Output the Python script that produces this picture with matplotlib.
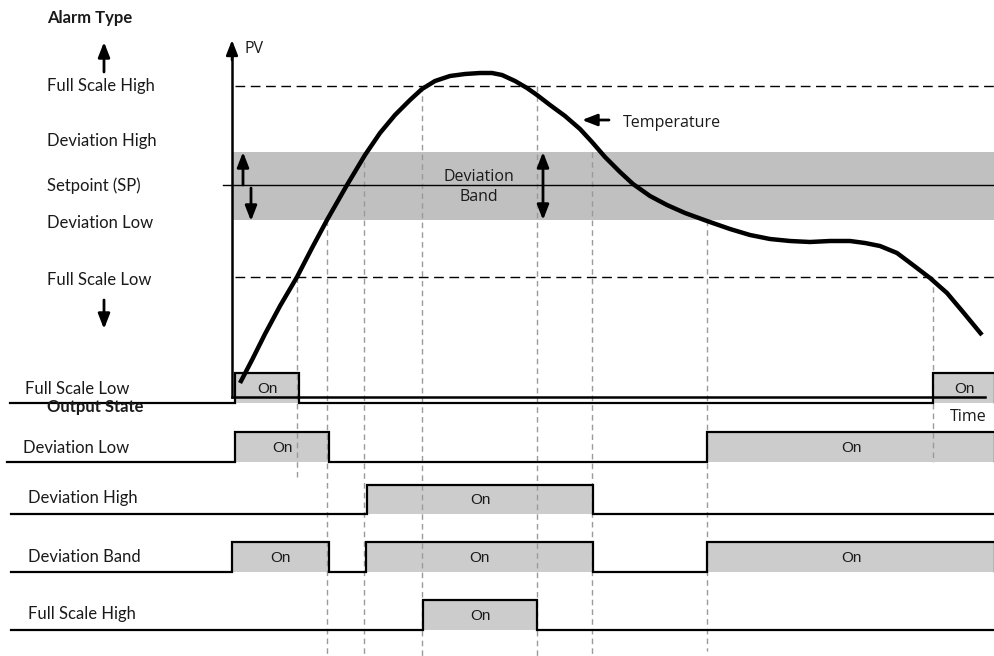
import matplotlib
matplotlib.use("Agg")
import matplotlib.pyplot as plt

# ---------------- data ----------------
# PV threshold levels (chart units, larger = lower on the PV axis scale used here)
level_names = ["Full Scale High", "Deviation High", "Setpoint (SP)", "Deviation Low", "Full Scale Low"]
level_values = [86, 152, 185, 220, 277]
level_label_y = [86, 141, 186, 223, 280]

# Temperature (PV) trace: time, pv
temp_time = [240, 252, 265, 280, 297, 312, 327, 347, 365, 380, 395, 410, 422, 435, 450, 465,
             480, 492, 502, 515, 527, 537, 550, 565, 580, 592, 605, 620, 633, 650, 667, 685,
             707, 730, 750, 770, 790, 810, 830, 850, 865, 880, 897, 913, 930, 947, 963, 982]
temp_pv = [383, 360, 334, 306, 277, 248, 220, 185, 155, 133, 115, 100, 89, 81, 76, 74,
           73, 73, 75, 81, 88, 95, 105, 116, 129, 142, 157, 172, 184, 196, 205, 213,
           221, 229, 235, 239, 241, 242, 241, 241, 243, 246, 253, 265, 278, 293, 312, 335]

# switching events: time, threshold level where the line starts, where it ends
event_time = [297, 327, 364, 422, 537, 592, 707, 933]
event_top = [277, 220, 152, 86, 86, 152, 220, 277]
event_bottom = [478, 656, 656, 656, 656, 656, 651, 462]

# output states
output_names = ["Full Scale Low", "Deviation Low", "Deviation High", "Deviation Band", "Full Scale High"]
output_label_x = [25, 23, 28, 28, 28]
output_label_y = [389, 448, 498, 557, 614]
output_base = [403, 462, 514, 572, 630]
output_high = [373, 432, 485, 542, 600]
output_start = [10, 7, 11, 11, 11]
output_on = [
    [(235, 299), (933, 995)],
    [(235, 329), (707, 995)],
    [(367, 593)],
    [(232, 329), (366, 593), (707, 995)],
    [(423, 537)],
]

X_END = 995
W, H = 995, 656

# ---------------- figure ----------------
fig = plt.figure(figsize=(W / 100, H / 100), dpi=100)
ax = fig.add_axes([0, 0, 1, 1])
ax.set_xlim(0, W)
ax.set_ylim(H, 0)
ax.axis("off")

LAB = dict(family=["Lato", "DejaVu Sans"], fontsize=12, color="#1a1a1a")
SANS = dict(family=["Open Sans", "DejaVu Sans"], fontsize=11.5, color="#1a1a1a")
ONF = dict(family=["Liberation Sans", "DejaVu Sans"], fontsize=11, color="#1a1a1a")

# deviation band
ax.fill_between([232, X_END], level_values[1], level_values[3], color="#c0c0c0", lw=0, zorder=1)
# setpoint line
ax.plot([223, X_END], [level_values[2]] * 2, color="black", lw=1, zorder=2)
# full scale dashed lines
for lv in (level_values[0], level_values[4]):
    ax.plot([235, X_END], [lv, lv], color="black", lw=1, dashes=(7, 4), zorder=2)

# event dashed verticals
for t, a, b in zip(event_time, event_top, event_bottom):
    ax.plot([t, t], [a, b], color="#9a9a9a", lw=1, dashes=(4, 3), zorder=1.5)

# output state traces
for i in range(len(output_names)):
    base, high = output_base[i], output_high[i]
    xs, ys = [output_start[i]], [base]
    for (a, b) in output_on[i]:
        ax.fill_between([a, b], high, base, color="#cccccc", lw=0, zorder=1)
        xs += [a, a, b, b]
        ys += [base, high, high, base]
        ax.text((a + b) / 2, (base + high) / 2 + 1, "On", ha="center", va="center", zorder=5, **ONF)
    xs.append(X_END)
    ys.append(base)
    ax.plot(xs, ys, color="black", lw=1.6, solid_joinstyle="miter", zorder=3)
    ax.text(output_label_x[i], output_label_y[i], output_names[i], ha="left", va="center", **LAB)

ax.text(47, 407, "Output State", ha="left", va="center", fontweight="bold", **LAB)

# PV and time axes
HEAD = "-|>,head_length=0.9,head_width=0.35"
ax.plot([232, 232], [397, 50], color="black", lw=1.8, zorder=4)
ax.plot([232, 985], [397, 397], color="black", lw=1.8, zorder=4)
ax.annotate("", xy=(232, 40), xytext=(232, 60),
            arrowprops=dict(arrowstyle=HEAD, color="black", lw=1.8, shrinkA=0, shrinkB=0), zorder=4)
ax.annotate("", xy=(996, 397), xytext=(975, 397),
            arrowprops=dict(arrowstyle=HEAD, color="black", lw=1.8, shrinkA=0, shrinkB=0), zorder=4)
ax.text(244, 49, "PV", ha="left", va="center", **SANS)
ax.text(950, 417, "Time", ha="left", va="center", **SANS)

# temperature curve
ax.plot(temp_time, temp_pv, color="black", lw=3.2, solid_capstyle="butt", solid_joinstyle="round", zorder=4)

# annotations
def arrow(x0, y0, x1, y1, style="-|>", lw=2):
    ax.annotate("", xy=(x1, y1), xytext=(x0, y0),
                arrowprops=dict(arrowstyle=style + ",head_length=0.9,head_width=0.35",
                                color="black", lw=lw, shrinkA=0, shrinkB=0), zorder=4)

arrow(243, level_values[2], 243, level_values[1])
arrow(251, level_values[2] + 3, 251, level_values[3] + 1)
ax.annotate("", xy=(543, level_values[1]), xytext=(543, level_values[3]),
            arrowprops=dict(arrowstyle="<|-|>,head_length=0.9,head_width=0.35", color="black",
                            lw=2, shrinkA=0, shrinkB=0), zorder=4)
ax.text(479, 187, "Deviation\nBand", ha="center", va="center", linespacing=1.4, **SANS)
arrow(609, 120, 582, 120)
ax.text(623, 123, "Temperature", ha="left", va="center", **SANS)

# alarm type column
ax.text(47, 18, "Alarm Type", ha="left", va="center", fontweight="bold", **LAB)
arrow(104, 72, 104, 42)
arrow(104, 300, 104, 329)
for name, y in zip(level_names, level_label_y):
    ax.text(47, y, name, ha="left", va="center", **LAB)

fig.savefig("out.png", dpi=100)
